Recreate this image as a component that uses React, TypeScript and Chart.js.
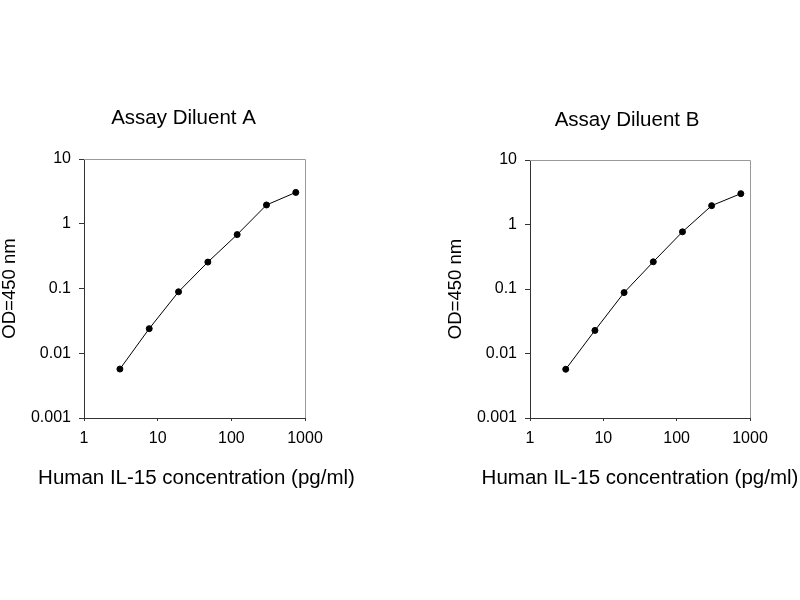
import React, { useEffect, useRef } from "react";
import { Chart, registerables } from "chart.js";

Chart.register(...registerables);

// ---- data ----
const concentrations = [3.072, 7.68, 19.2, 48, 120, 300, 750];
const odDiluentA = [0.0057, 0.024, 0.089, 0.256, 0.68, 1.95, 3.05];
const odDiluentB = [0.0057, 0.0228, 0.088, 0.264, 0.77, 1.96, 3.01];
const xTickValues = [1, 10, 100, 1000];
const yTickValues = [0.001, 0.01, 0.1, 1, 10];
const panelTitles = ["Assay Diluent A", "Assay Diluent B"];
const xAxisTitle = "Human IL-15 concentration (pg/ml)";
const yAxisTitle = "OD=450 nm";

const FONT = "'Liberation Sans', Arial, Helvetica, sans-serif";

type PanelLayout = {
  left: number;
  width: number;
  plotLeft: number;
  padRight: number;
  plotTop: number;
  plotBottom: number;
  titleX: number;
  titleY: number;
  xTitleX: number;
  xTitleY: number;
  yTitlePad: number;
};

const layouts: PanelLayout[] = [
  { left: 0, width: 365, plotLeft: 84, padRight: 60, plotTop: 159, plotBottom: 418, titleX: 183.5, titleY: 118.5, xTitleX: 196.5, xTitleY: 478, yTitlePad: 1 },
  { left: 445, width: 364, plotLeft: 85, padRight: 59, plotTop: 160, plotBottom: 418, titleX: 182, titleY: 120, xTitleX: 195, xTitleY: 478, yTitlePad: 2 },
];

const framePlugin = {
  id: "frame",
  beforeDatasetsDraw(chart: any) {
    const { ctx, chartArea } = chart;
    ctx.save();
    ctx.strokeStyle = "#9a9a9a";
    ctx.lineWidth = 1;
    ctx.beginPath();
    ctx.moveTo(chartArea.left, chartArea.top + 0.5);
    ctx.lineTo(chartArea.right + 0.5, chartArea.top + 0.5);
    ctx.lineTo(chartArea.right + 0.5, chartArea.bottom);
    ctx.stroke();
    ctx.restore();
  },
};

function makeTextPlugin(title: string, L: PanelLayout) {
  return {
    id: "panelText",
    afterDraw(chart: any) {
      const { ctx } = chart;
      ctx.save();
      ctx.fillStyle = "#000";
      ctx.textAlign = "center";
      ctx.textBaseline = "middle";
      ctx.font = `20.5px ${FONT}`;
      ctx.fillText(title, L.titleX, L.titleY);
      ctx.font = `20.5px ${FONT}`;
      ctx.fillText(xAxisTitle, L.xTitleX, L.xTitleY);
      ctx.restore();
    },
  };
}

function Panel({ index, values }: { index: number; values: number[] }) {
  const ref = useRef<HTMLCanvasElement | null>(null);
  const L = layouts[index];
  const H = 600;

  useEffect(() => {
    if (!ref.current) return;
    const xScaleHeight = H - L.plotBottom;

    const chart = new Chart(ref.current, {
      type: "scatter",
      data: {
        datasets: [
          {
            data: concentrations.map((c, i) => ({ x: c, y: values[i] })),
            showLine: true,
            borderColor: "#000",
            borderWidth: 1,
            pointRadius: 3,
            pointBackgroundColor: "#000",
            pointBorderColor: "#000",
            pointBorderWidth: 1,
          },
        ],
      },
      options: {
        animation: false,
        responsive: false,
        devicePixelRatio: 1,
        layout: { padding: { left: 0, right: L.padRight, top: L.plotTop, bottom: 0 } },
        plugins: {
          legend: { display: false },
          tooltip: { enabled: false },
          title: { display: false },
        },
        scales: {
          x: {
            type: "logarithmic",
            position: "bottom",
            min: 1,
            max: 1000,
            afterBuildTicks: (axis: any) => {
              axis.ticks = xTickValues.map((v) => ({ value: v }));
            },
            afterFit: (axis: any) => {
              axis.height = xScaleHeight;
            },
            ticks: {
              color: "#000",
              font: { family: FONT, size: 16, lineHeight: 1.2 },
              padding: 8,
              maxRotation: 0,
              autoSkip: false,
              callback: (v: any) => String(v),
            },
            grid: { display: true, drawOnChartArea: false, drawTicks: true, tickLength: 3, color: "#333" },
            border: { display: true, color: "#333", width: 1 },
            title: { display: false },
          },
          y: {
            type: "logarithmic",
            position: "left",
            min: 0.001,
            max: 10,
            afterBuildTicks: (axis: any) => {
              axis.ticks = yTickValues.map((v) => ({ value: v }));
            },
            afterFit: (axis: any) => {
              axis.width = L.plotLeft;
            },
            ticks: {
              color: "#000",
              font: { family: FONT, size: 16, lineHeight: 1.2 },
              padding: 8,
              autoSkip: false,
              callback: (v: any) => String(v),
            },
            grid: { display: true, drawOnChartArea: false, drawTicks: true, tickLength: 5, color: "#333" },
            border: { display: true, color: "#333", width: 1 },
            title: {
              display: true,
              text: yAxisTitle,
              color: "#000",
              font: { family: FONT, size: 18.5, lineHeight: 1 },
              padding: { top: L.yTitlePad, bottom: 0 },
            },
          },
        },
      } as any,
      plugins: [framePlugin, makeTextPlugin(panelTitles[index], L)],
    });
    return () => chart.destroy();
  }, []);

  return (
    <canvas
      ref={ref}
      width={L.width}
      height={H}
      style={{ position: "absolute", left: L.left, top: 0, width: L.width, height: H, display: "block" }}
    />
  );
}

export default function App() {
  return (
    <div
      style={{
        position: "fixed",
        left: 0,
        top: 0,
        width: 800,
        height: 600,
        overflow: "hidden",
        background: "#fff",
      }}
    >
      <Panel index={0} values={odDiluentA} />
      <Panel index={1} values={odDiluentB} />
    </div>
  );
}
